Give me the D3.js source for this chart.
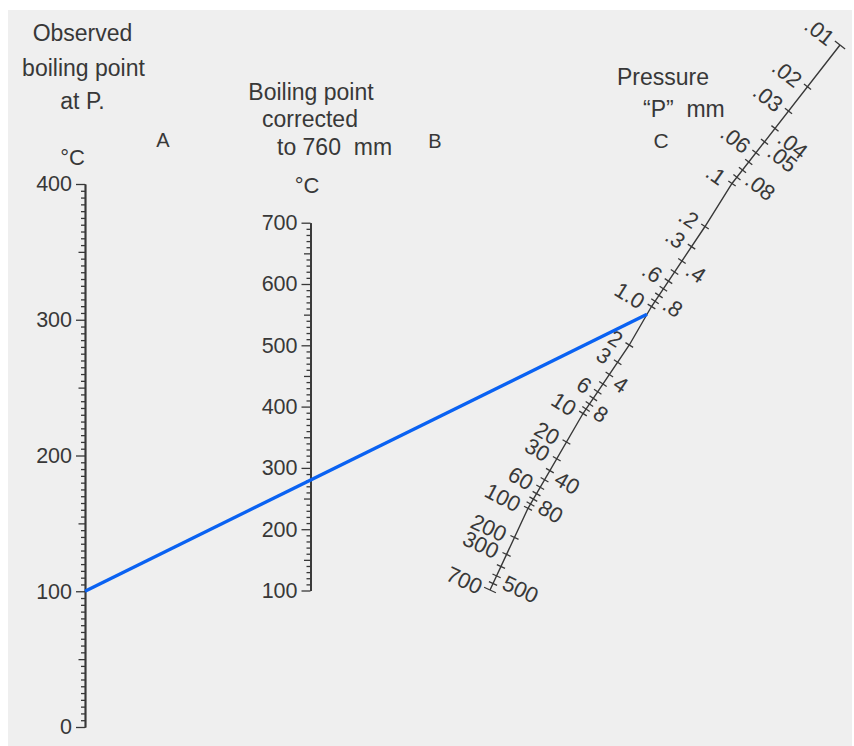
<!DOCTYPE html>
<html><head><meta charset="utf-8">
<script src="https://cdn.jsdelivr.net/npm/d3@7"></script>
<style>
html,body{margin:0;padding:0;background:#fff;}
svg{display:block;font-family:"Liberation Sans",Arial,Helvetica,sans-serif;}
</style></head><body>
<svg id="chart" width="854" height="746"></svg>
<script>
// ---- data ----
const observedDomain = [0, 400];
const observedTicks = [0, 100, 200, 300, 400];
const correctedDomain = [100, 700];
const correctedTicks = [100, 200, 300, 400, 500, 600, 700];
const pressureTicks = [0.01,0.02,0.03,0.04,0.05,0.06,0.07,0.08,0.09,0.1,
  0.2,0.3,0.4,0.5,0.6,0.7,0.8,0.9,1,2,3,4,5,6,7,8,9,10,
  20,30,40,50,60,70,80,90,100,200,300,400,500,600,700];
const pressureLabelsLeft = [0.01,0.02,0.03,0.06,0.1,0.2,0.3,0.6,1,2,3,6,10,20,30,60,100,200,300,700];
const pressureLabelsRight = [0.04,0.05,0.08,0.4,0.8,4,8,40,80,500];
// scale anchors of the (slightly curved) pressure line
const pressureAnchors = [0.01, 0.1, 0.2, 1, 2, 10, 100, 700];
const exampleObserved = 100;   // °C observed at P
const examplePressure = 1.15;  // mm

// ---- layout ----
const svg = d3.select("#chart");
const ink = "#383838";
svg.append("rect").attr("x",8).attr("y",10).attr("width",844).attr("height",736).attr("fill","#efefef");

const xA = 85, xB = 310.5;
const yA = d3.scaleLinear().domain(observedDomain).range([727, 184]);
const yB = d3.scaleLinear().domain(correctedDomain).range([590.5, 222.7]);
const xC = d3.scaleLog().domain(pressureAnchors).range([840, 732, 705, 651.5, 629.3, 583, 528, 490]);
const yC = d3.scaleLog().domain(pressureAnchors).range([45, 183.5, 226.5, 306.5, 345, 413.5, 508.3, 590]);

function styleAxis(g){
  g.selectAll("path.domain").attr("stroke", ink).attr("stroke-width", 1.5);
  g.selectAll(".tick line").attr("stroke", ink).attr("stroke-width", 1.3);
  g.selectAll(".tick text").attr("fill", ink).attr("font-size", 21.5).attr("font-family", '"Liberation Sans",Arial,sans-serif');
}

function linearAxis(scale, x, major, minorStep){
  const [d0, d1] = scale.domain();
  const minor = d3.range(d0, d1 + 0.001, minorStep).filter(v => v % 50 !== 0);
  const mid = d3.range(d0, d1 + 0.001, 50).filter(v => v % 100 !== 0);
  const gMinor = svg.append("g").attr("transform", `translate(${x},0)`)
    .call(d3.axisLeft(scale).tickValues(minor).tickSize(4).tickSizeOuter(0).tickFormat(""));
  const gMid = svg.append("g").attr("transform", `translate(${x},0)`)
    .call(d3.axisLeft(scale).tickValues(mid).tickSize(6.5).tickSizeOuter(0).tickFormat(""));
  const gMajor = svg.append("g").attr("transform", `translate(${x},0)`)
    .call(d3.axisLeft(scale).tickValues(major).tickSize(9).tickSizeOuter(0).tickPadding(4).tickFormat(d3.format("d")));
  [gMinor, gMid, gMajor].forEach(styleAxis);
}
linearAxis(yA, xA, observedTicks, 5);
linearAxis(yB, xB, correctedTicks, 10);

// ---- pressure scale C ----
const lineC = d3.line().x(d => xC(d)).y(d => yC(d));
svg.append("path").attr("d", lineC(pressureAnchors)).attr("fill","none").attr("stroke", ink).attr("stroke-width", 1.4);

function frameAt(p){
  const lo = Math.max(0.01, p/1.08), hi = Math.min(700, p*1.08);
  const dx = xC(hi) - xC(lo), dy = yC(hi) - yC(lo);
  return Math.atan2(-dx, dy) * 180 / Math.PI;
}
const fmtP = v => v === 1 ? "1.0" : (v < 1 ? String(v).replace(/^0/, "") : String(v));
const endTicks = [pressureTicks[0], pressureTicks[pressureTicks.length-1]];
const cG = svg.append("g");
pressureTicks.forEach(p => {
  const ang = frameAt(p);
  const half = endTicks.includes(p) ? 6.5 : 4.5;
  const g = cG.append("g").attr("transform", `translate(${xC(p)},${yC(p)}) rotate(${ang})`);
  g.append("line").attr("x1",-half).attr("x2",half).attr("y1",0).attr("y2",0)
    .attr("stroke", ink).attr("stroke-width", 1.3);
});
function cLabels(vals, side){
  vals.forEach(p => {
    const ang = frameAt(p);
    cG.append("text")
      .attr("transform", `translate(${xC(p)},${yC(p)}) rotate(${ang})`)
      .attr("x", side < 0 ? -9 : 9).attr("y", 2).attr("dy", "0.35em")
      .attr("text-anchor", side < 0 ? "end" : "start")
      .attr("font-size", 22).attr("fill", ink)
      .text(fmtP(p));
  });
}
cLabels(pressureLabelsLeft, -1);
cLabels(pressureLabelsRight, 1);

// ---- titles ----
const titles = [
  {t:"Observed", x:82.5, y:41, a:"middle", s:23},
  {t:"boiling point", x:83.5, y:76, a:"middle", s:23},
  {t:"at P.", x:82.5, y:109, a:"middle", s:23},
  {t:"°C", x:72.5, y:165, a:"middle", s:22},
  {t:"A", x:163, y:147, a:"middle", s:20},
  {t:"Boiling point", x:311, y:100, a:"middle", s:23},
  {t:"corrected", x:310, y:127, a:"middle", s:23},
  {t:"to 760  mm", x:277, y:155, a:"start", s:23},
  {t:"B", x:435, y:148, a:"middle", s:20},
  {t:"°C", x:307, y:193, a:"middle", s:22},
  {t:"Pressure", x:617, y:85, a:"start", s:23},
  {t:"\u201CP\u201D  mm", x:643, y:117, a:"start", s:23},
  {t:"C", x:661, y:148, a:"middle", s:21}
];
svg.append("g").selectAll("text").data(titles).join("text")
  .attr("x", d => d.x).attr("y", d => d.y).attr("text-anchor", d => d.a)
  .attr("font-size", d => d.s).attr("fill", ink)
  .style("white-space","pre").attr("xml:space","preserve")
  .text(d => d.t);

// ---- example line ----
svg.append("line")
  .attr("x1", xA).attr("y1", yA(exampleObserved))
  .attr("x2", xC(examplePressure)).attr("y2", yC(examplePressure))
  .attr("stroke", "#0a62f2").attr("stroke-width", 3.4).attr("stroke-linecap","butt");
</script>
</body></html>
